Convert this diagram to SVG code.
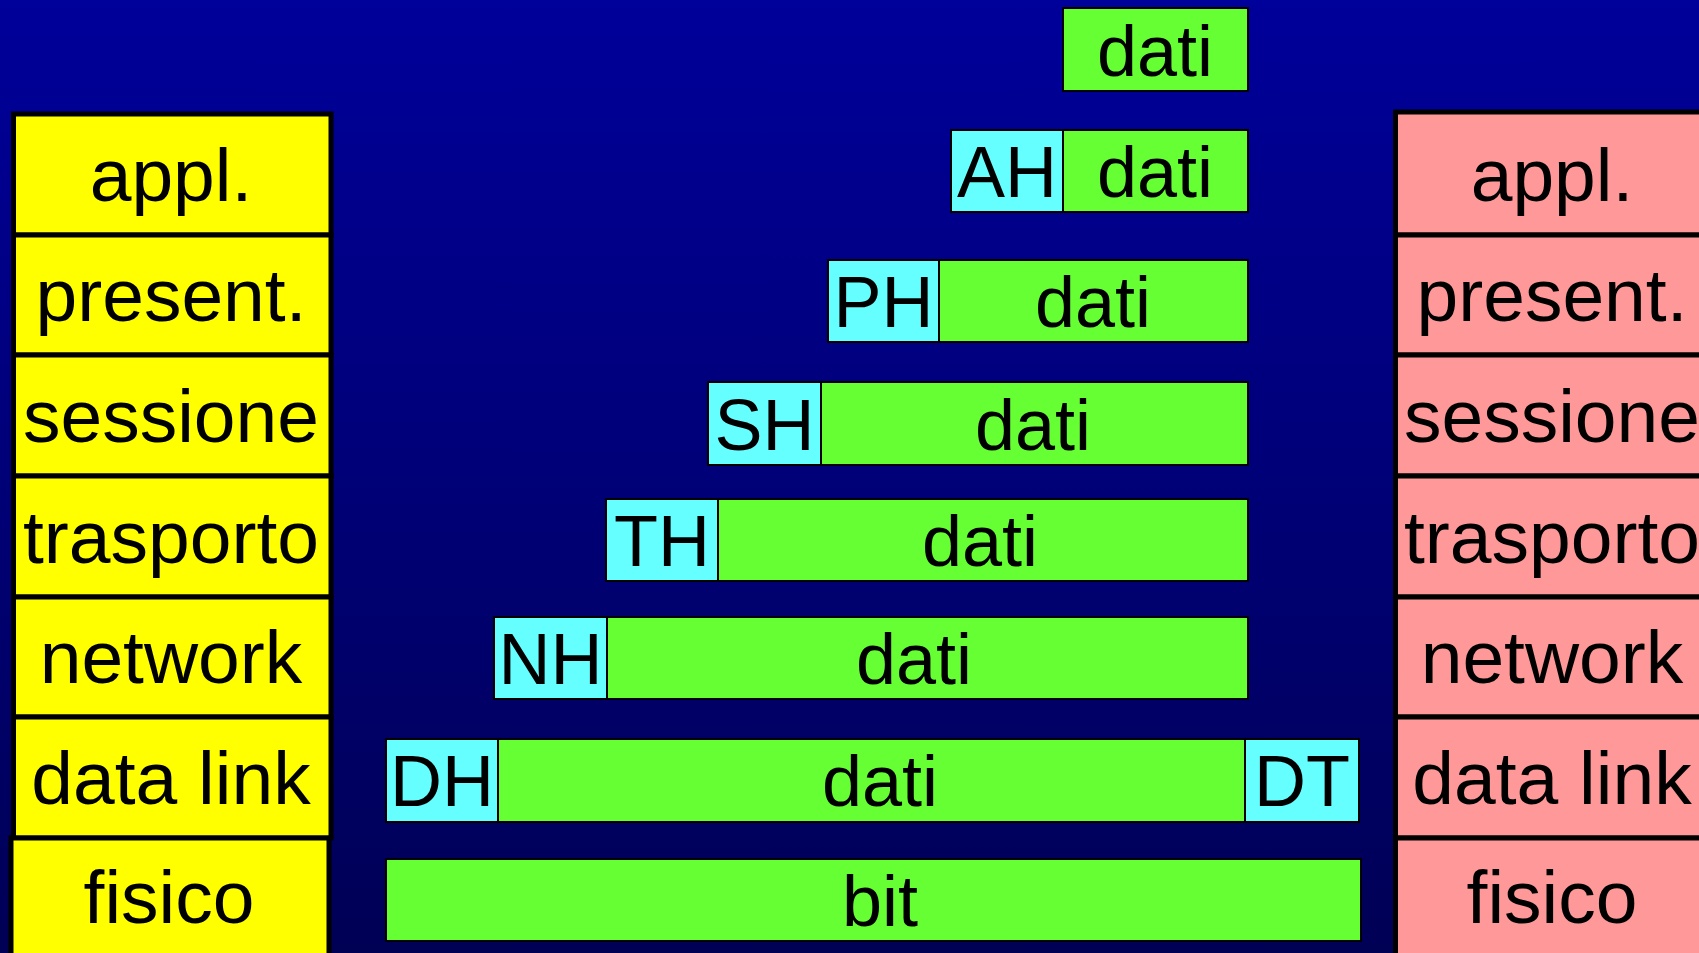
<svg xmlns="http://www.w3.org/2000/svg" width="1699" height="953" viewBox="0 0 1699 953">
<defs>
<linearGradient id="bg" x1="0" y1="0" x2="0" y2="1">
<stop offset="0" stop-color="#00009A"/>
<stop offset="1" stop-color="#000055"/>
</linearGradient>
</defs>
<style>
.lay{stroke:#000;stroke-width:5}
.y{fill:#FFFF00}
.p{fill:#FF9999}
.g{fill:#66FF33;stroke:#000;stroke-width:2}
.c{fill:#66FFFF;stroke:#000;stroke-width:2}
text{font-family:"Liberation Sans",Arial,sans-serif;fill:#000;text-anchor:middle}
.lt{font-size:75px}
.bt{font-size:72px}
</style>
<rect width="1699" height="953" fill="url(#bg)"/>

<g id="left-stack">
<g id="l-appl"><rect class="lay y" x="13.5" y="114" width="317.5" height="121"/><text class="lt" x="171" y="201">appl.</text></g>
<g id="l-present"><rect class="lay y" x="13.5" y="235" width="317.5" height="120"/><text class="lt" x="171" y="321">present.</text></g>
<g id="l-sessione"><rect class="lay y" x="13.5" y="355" width="317.5" height="121"/><text class="lt" x="171" y="442">sessione</text></g>
<g id="l-trasporto"><rect class="lay y" x="13.5" y="476" width="317.5" height="121"/><text class="lt" x="171" y="563">trasporto</text></g>
<g id="l-network"><rect class="lay y" x="13.5" y="597" width="317.5" height="120"/><text class="lt" x="171" y="683">network</text></g>
<g id="l-datalink"><rect class="lay y" x="13.5" y="717" width="317.5" height="121"/><text class="lt" x="171" y="804">data link</text></g>
<g id="l-fisico"><rect class="lay y" x="11" y="838" width="318" height="125"/><text class="lt" x="169" y="923">fisico</text></g>
</g>

<g id="right-stack">
<g id="r-appl"><rect class="lay p" x="1395.5" y="112" width="320" height="123"/><text class="lt" x="1552" y="201">appl.</text></g>
<g id="r-present"><rect class="lay p" x="1395.5" y="235" width="320" height="120"/><text class="lt" x="1552" y="321">present.</text></g>
<g id="r-sessione"><rect class="lay p" x="1395.5" y="355" width="320" height="121"/><text class="lt" x="1552" y="442">sessione</text></g>
<g id="r-trasporto"><rect class="lay p" x="1395.5" y="476" width="320" height="121"/><text class="lt" x="1552" y="563">trasporto</text></g>
<g id="r-network"><rect class="lay p" x="1395.5" y="597" width="320" height="120"/><text class="lt" x="1552" y="683">network</text></g>
<g id="r-datalink"><rect class="lay p" x="1395.5" y="717" width="320" height="121"/><text class="lt" x="1552" y="804">data link</text></g>
<g id="r-fisico"><rect class="lay p" x="1395.5" y="838" width="320" height="125"/><text class="lt" x="1552" y="923">fisico</text></g>
</g>

<g id="pdu-appl-data">
<rect class="g" x="1063" y="8" width="185" height="83"/><text class="bt" x="1155" y="76">dati</text>
</g>
<g id="pdu-appl">
<rect class="c" x="951" y="130" width="112" height="82"/><text class="bt" x="1007" y="197">AH</text>
<rect class="g" x="1063" y="130" width="185" height="82"/><text class="bt" x="1155" y="197">dati</text>
</g>
<g id="pdu-present">
<rect class="c" x="828" y="260" width="111" height="82"/><text class="bt" x="883.5" y="327">PH</text>
<rect class="g" x="939" y="260" width="309" height="82"/><text class="bt" x="1093" y="327">dati</text>
</g>
<g id="pdu-sessione">
<rect class="c" x="708" y="382" width="113" height="83"/><text class="bt" x="764.5" y="450">SH</text>
<rect class="g" x="821" y="382" width="427" height="83"/><text class="bt" x="1033" y="450">dati</text>
</g>
<g id="pdu-trasporto">
<rect class="c" x="606" y="499" width="112" height="82"/><text class="bt" x="662" y="566">TH</text>
<rect class="g" x="718" y="499" width="530" height="82"/><text class="bt" x="980" y="566">dati</text>
</g>
<g id="pdu-network">
<rect class="c" x="494" y="617" width="113" height="82"/><text class="bt" x="550.5" y="684">NH</text>
<rect class="g" x="607" y="617" width="641" height="82"/><text class="bt" x="914" y="684">dati</text>
</g>
<g id="pdu-datalink">
<rect class="c" x="386" y="739" width="112" height="83"/><text class="bt" x="442" y="806">DH</text>
<rect class="g" x="498" y="739" width="747" height="83"/><text class="bt" x="880" y="806">dati</text>
<rect class="c" x="1245" y="739" width="114" height="83"/><text class="bt" x="1302" y="806">DT</text>
</g>
<g id="pdu-fisico">
<rect class="g" x="386" y="859" width="975" height="82"/><text class="bt" x="880" y="926">bit</text>
</g>
</svg>
